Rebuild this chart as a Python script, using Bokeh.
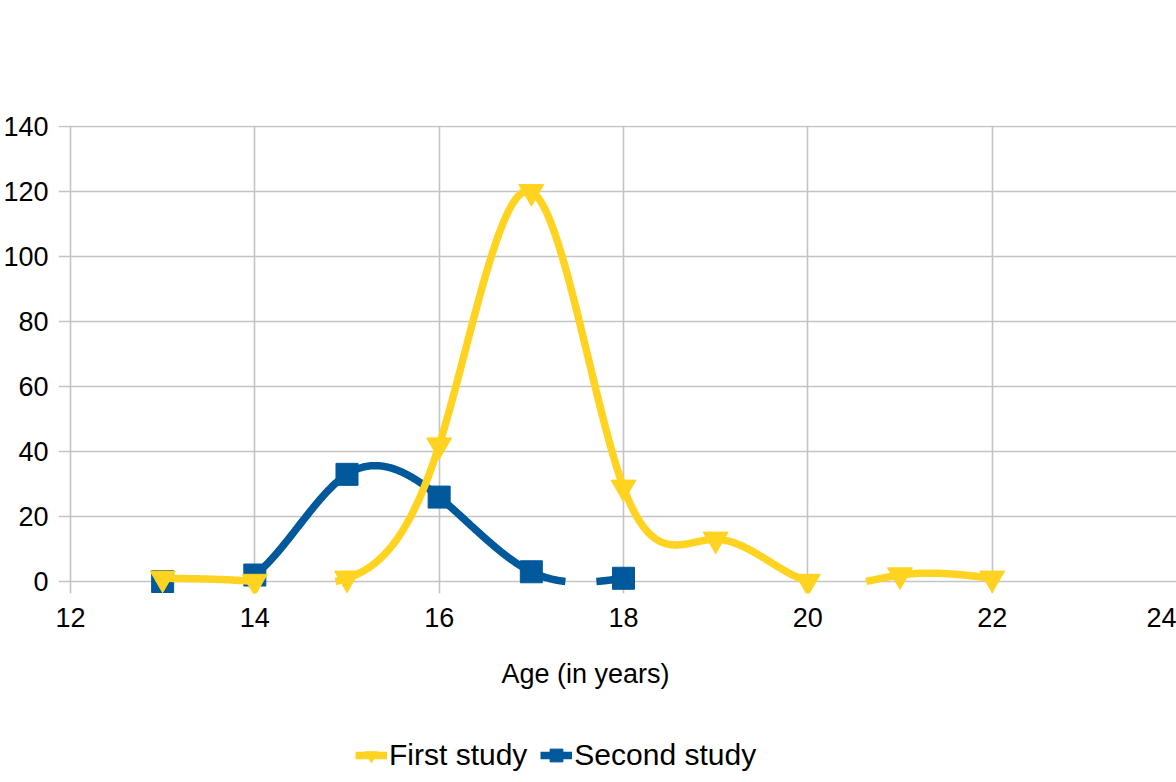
import numpy as np
from bokeh.plotting import figure
from bokeh.layouts import column
from bokeh.models import FixedTicker, Legend, LegendItem, Range1d, Label
from bokeh.embed import file_html
from bokeh.resources import INLINE

# ---------------- data ----------------
ages_first = [13, 14, 15, 16, 17, 18, 19, 20, 21, 22]
first_study = [1, 0, 1, 42, 120, 29, 13, 0, 2, 1]
ages_second = [13, 14, 15, 16, 17, 18]
second_study = [0, 2, 33, 26, 3, 1]
x_ticks = [12, 14, 16, 18, 20, 22, 24]
y_ticks = [0, 20, 40, 60, 80, 100, 120, 140]
x_title = "Age (in years)"
series_names = ["First study", "Second study"]

# ---------------- style ----------------
FIRST_COLOR = "#ffd320"
SECOND_COLOR = "#00599b"
GRID_COLOR = "#c4c4c4"
FONT = "Liberation Sans"
X_START = 11.87    # frame begins a tick-length left of the first tick
Y_START = -3.69    # frame ends a tick-length below zero
Y_END = 140.4      # a hair above the top tick so its grid line is drawn
W = 1176
H_MAIN = 645
H_FOOT = 137
LINE_W = 7.5
FRAME_LEFT = 58    # the footer's frame is aligned with the chart's frame


def natural_spline(xs, ys, per_seg=120):
    """Smooth (natural cubic spline) drawing path through the data points."""
    x = np.asarray(xs, float)
    y = np.asarray(ys, float)
    n = len(x)
    h = np.diff(x)
    A = np.zeros((n, n))
    r = np.zeros(n)
    A[0, 0] = 1
    A[-1, -1] = 1
    for i in range(1, n - 1):
        A[i, i - 1] = h[i - 1]
        A[i, i] = 2 * (h[i - 1] + h[i])
        A[i, i + 1] = h[i]
        r[i] = 6 * ((y[i + 1] - y[i]) / h[i] - (y[i] - y[i - 1]) / h[i - 1])
    M = np.linalg.solve(A, r)
    xx, yy = [], []
    for i in range(n - 1):
        t = np.linspace(x[i], x[i + 1], per_seg, endpoint=(i == n - 2))
        a = x[i + 1] - t
        b = t - x[i]
        s = ((M[i] * a ** 3 + M[i + 1] * b ** 3) / (6 * h[i])
             + (y[i] / h[i] - M[i] * h[i] / 6) * a
             + (y[i + 1] / h[i] - M[i + 1] * h[i] / 6) * b)
        xx.append(t)
        yy.append(s)
    xx = np.concatenate(xx)
    yy = np.concatenate(yy)
    # the curve is clipped where it dips below the value-axis minimum (0)
    yy = np.where(yy < -1e-6, np.nan, yy)
    return xx, yy


# ================= main chart =================
p = figure(width=W, height=H_MAIN,
           x_range=Range1d(X_START, x_ticks[-1]),
           y_range=Range1d(Y_START, Y_END),
           min_border_left=0, min_border_right=0,
           min_border_top=125, min_border_bottom=52,
           output_backend="svg", toolbar_location=None)
p.title.visible = False
p.outline_line_color = None
p.background_fill_color = "white"
p.border_fill_color = "white"

for ax in (p.xaxis, p.yaxis):
    ax.axis_line_color = None
    ax.major_tick_line_color = None
    ax.minor_tick_line_color = None
    ax.major_tick_out = 0
    ax.major_tick_in = 0
    ax.major_label_text_font = FONT
    ax.major_label_text_font_size = "27px"
    ax.major_label_text_color = "black"

p.yaxis.ticker = FixedTicker(ticks=y_ticks)
p.yaxis.major_label_standoff = 10
p.xaxis.ticker = FixedTicker(ticks=x_ticks)
p.xaxis.major_label_standoff = 14

for g in (p.xgrid, p.ygrid):
    g.grid_line_color = GRID_COLOR
    g.grid_line_width = 1.6

first_style = dict(line_color=FIRST_COLOR, line_width=LINE_W,
                   line_join="round", line_cap="butt")
second_style = dict(line_color=SECOND_COLOR, line_width=LINE_W,
                    line_join="round", line_cap="butt")
first_marker = dict(marker="inverted_triangle", size=25,
                    fill_color=FIRST_COLOR, line_color=FIRST_COLOR)
second_marker = dict(marker="square", size=22,
                     fill_color=SECOND_COLOR, line_color=SECOND_COLOR)

# second study drawn first so the first study sits on top
sx, sy = natural_spline(ages_second, second_study)
p.line(sx, sy, **second_style)
p.scatter(ages_second, second_study, **second_marker)

fx, fy = natural_spline(ages_first, first_study)
p.line(fx, fy, **first_style)
p.scatter(ages_first, first_study, **first_marker)

# ================= footer: axis title + legend =================
# ranges lie away from the data, so only the legend swatches show the series
f = figure(width=W, height=H_FOOT, x_axis_type=None, y_axis_type=None,
           x_range=Range1d(-2, -1), y_range=Range1d(-2, -1),
           min_border=0, output_backend="svg", toolbar_location=None)
f.title.visible = False
f.outline_line_color = None
f.background_fill_color = "white"
f.border_fill_color = "white"

f.add_layout(Label(x=585 - FRAME_LEFT, y=109, x_units="screen", y_units="screen",
                   text=x_title, text_align="center", text_baseline="alphabetic",
                   text_font=FONT, text_font_size="27px", text_color="black"))

k1 = f.line(ages_first, first_study, **first_style)
k1m = f.scatter(ages_first, first_study, **first_marker)
k2 = f.line(ages_second, second_study, **second_style)
k2m = f.scatter(ages_second, second_study, **second_marker)

legend = Legend(items=[LegendItem(label=series_names[0], renderers=[k1, k1m]),
                       LegendItem(label=series_names[1], renderers=[k2, k2m])],
                location=(355 - FRAME_LEFT, 10), orientation="horizontal",
                border_line_color=None, background_fill_alpha=0,
                label_text_font=FONT, label_text_font_size="30px",
                label_text_color="black",
                glyph_width=32, glyph_height=32, label_standoff=2,
                spacing=13, padding=0, margin=0)
f.add_layout(legend, "center")

layout = column(p, f, spacing=0)
open("out.html", "w").write(file_html(layout, INLINE))
